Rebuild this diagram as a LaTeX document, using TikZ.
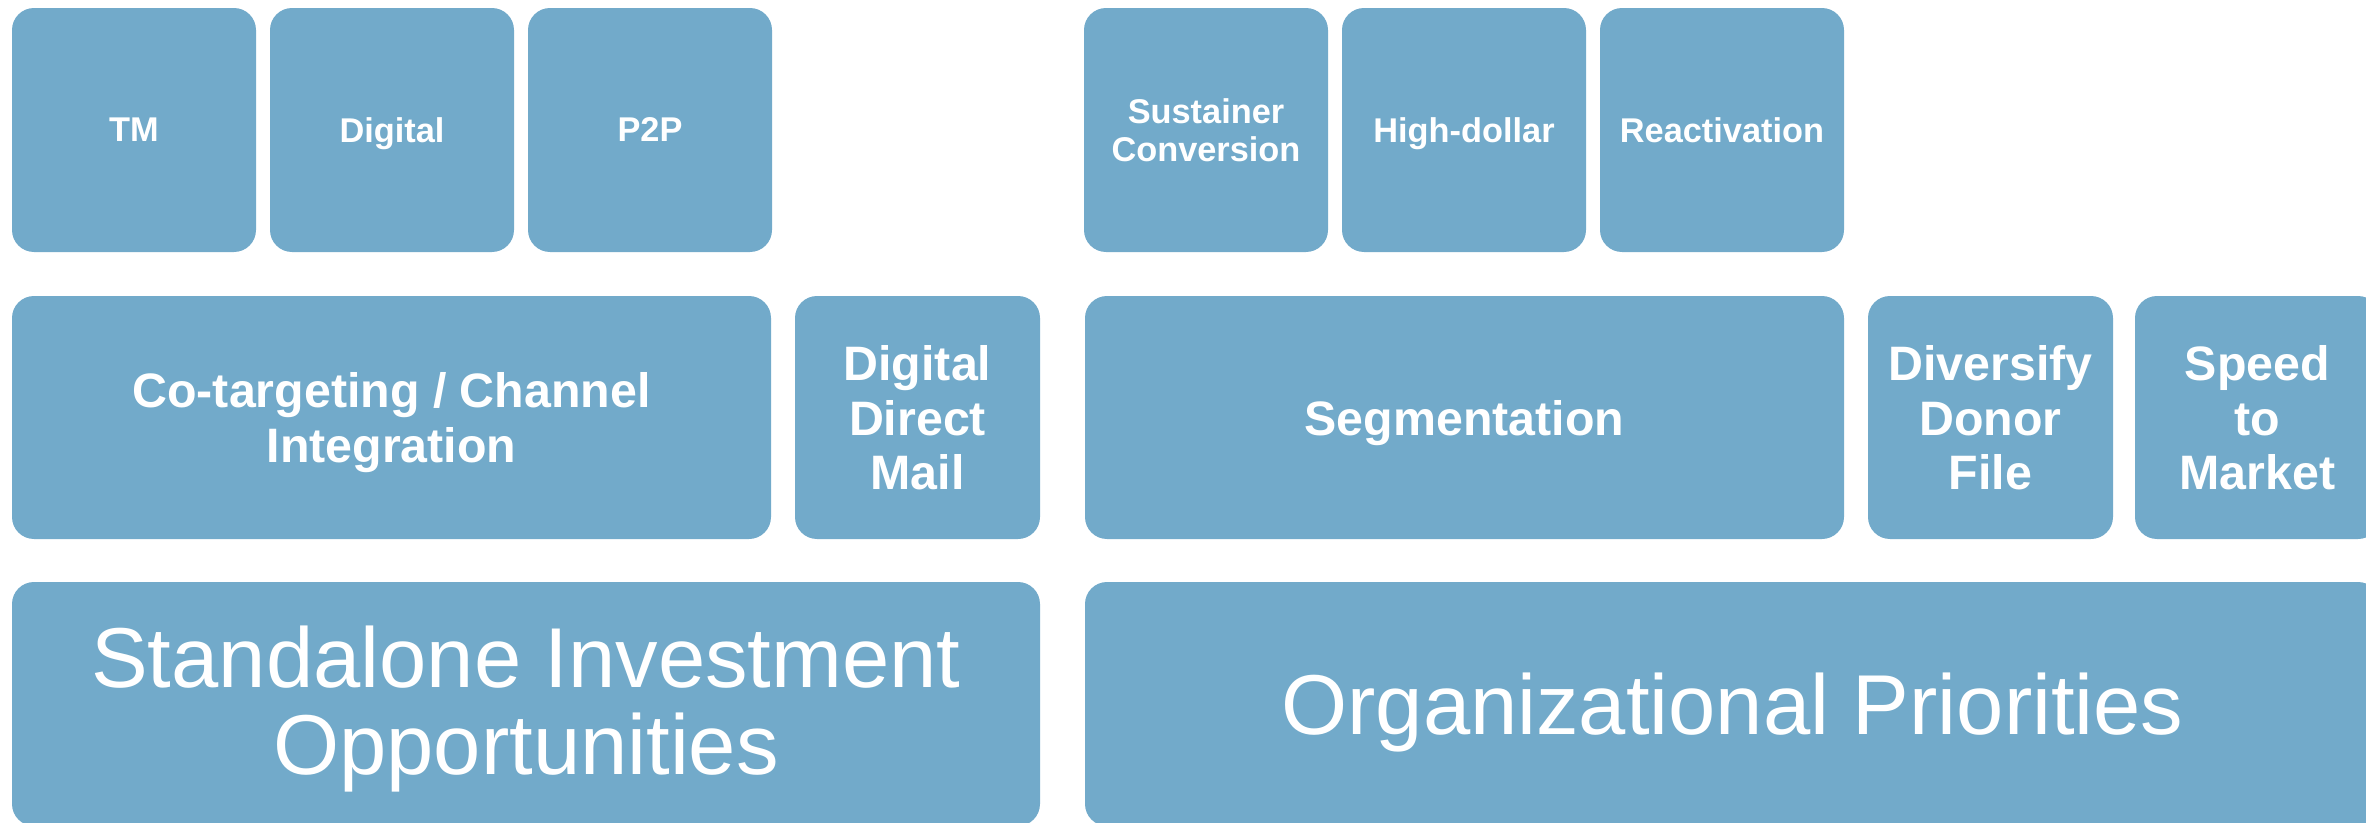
\documentclass[tikz,border=0pt]{standalone}
\usepackage{fontspec}
\setmainfont{Liberation Sans}
\definecolor{boxblue}{RGB}{114,170,202}
\tikzset{
  blk/.style={fill=boxblue, draw=none, rounded corners=6.6pt, text=white, align=center, inner sep=0pt, text depth=0pt},
  smallt/.style={blk, font=\bfseries\fontsize{10.3}{11.2}\selectfont, minimum width=73.2pt, minimum height=73.2pt},
  midt/.style={blk, font=\bfseries\fontsize{14.5}{16.4}\selectfont, minimum height=72.9pt},
  bigt/.style={blk, font=\fontsize{25.5}{26}\selectfont, minimum height=73.2pt}
}
\begin{document}
\begin{tikzpicture}[x=0.3pt, y=-0.3pt]
\useasboundingbox (0,0) rectangle (2366,823);
\clip (0,0) rectangle (2366,823);
% row 1
\node[smallt] (tm) at (134,130) {TM};
\node[smallt] (dig) at (392,130) {Digital};
\node[smallt] (p2p) at (650,130) {P2P};
\node[smallt] (sus) at (1206,130) {Sustainer\\Conversion};
\node[smallt] (hd) at (1464,130) {High-dollar};
\node[smallt] (rea) at (1722,130) {Reactivation};
% row 2
\node[midt, minimum width=227.7pt] (cot) at (391.5,417.5) {Co-targeting / Channel\\Integration};
\node[midt, minimum width=73.5pt] (ddm) at (917.5,417.5) {Digital\\Direct\\Mail};
\node[midt, minimum width=227.7pt] (seg) at (1464.5,417.5) {Segmentation};
\node[midt, minimum width=73.5pt] (div) at (1990.5,417.5) {Diversify\\Donor\\File};
\node[midt, minimum width=73.5pt] (spd) at (2257.5,417.5) {Speed\\to\\Market};
% row 3
\node[bigt, minimum width=308.4pt, text depth=2.4pt] (sio) at (526,704) {Standalone Investment\\Opportunities};
\node[bigt, minimum width=388.5pt] (org) at (1732.5,704) {Organizational Priorities};
\end{tikzpicture}
\end{document}
